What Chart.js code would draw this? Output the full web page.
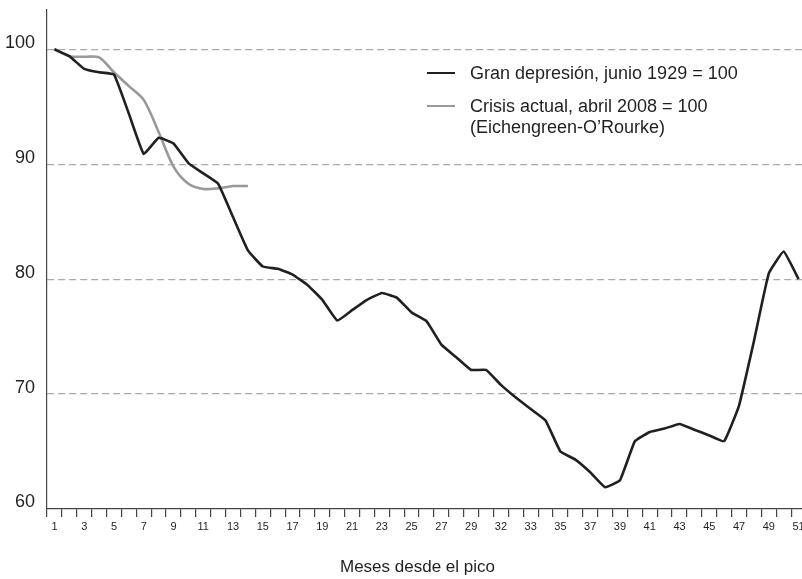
<!DOCTYPE html>
<html><head><meta charset="utf-8">
<script src="https://cdn.jsdelivr.net/npm/chart.js@4/dist/chart.umd.min.js"></script>
<style>
html,body{margin:0;padding:0;background:#fff;overflow:hidden;width:802px;height:579px;}
#wrap{position:relative;width:806px;height:579px;}
canvas{position:absolute;left:0;top:0;}
.leg{position:absolute;font-family:"Liberation Sans",Arial,sans-serif;font-size:18px;color:#231f20;line-height:21px;white-space:nowrap;}
.sw{position:absolute;height:0;width:28px;border-top:2.6px solid;}
#xt{position:absolute;left:0;width:835px;top:557px;text-align:center;font-family:"Liberation Sans",Arial,sans-serif;font-size:17px;line-height:20px;color:#231f20;}
</style></head><body>
<div id="wrap">
<canvas id="c" width="806" height="579"></canvas>
<div class="sw" style="left:427px;top:72px;border-color:#231f20"></div>
<div class="leg" style="left:470px;top:62.5px">Gran depresión, junio 1929 = 100</div>
<div class="sw" style="left:427px;top:104.7px;border-color:#999999"></div>
<div class="leg" style="left:470px;top:96px">Crisis actual, abril 2008 = 100<br>(Eichengreen-O’Rourke)</div>
<div id="xt">Meses desde el pico</div>
</div>
<script>
// Categories: months since the peak
const months = ['1','2','3','4','5','6','7','8','9','10','11','12','13','14','15','16','17','18','19','20',
  '21','22','23','24','25','26','27','28','29','30','31','32','33','34','35','36','37','38','39','40',
  '41','42','43','44','45','46','47','48','49','50','51'];
// Tick labels as printed in the reference (note "32" under month 31)
const tickLabels = ['1','','3','','5','','7','','9','','11','','13','','15','','17','','19','',
  '21','','23','','25','','27','','29','','32','','33','','35','','37','','39','',
  '41','','43','','45','','47','','49','','51'];
// Great Depression, June 1929 = 100
const granDepresion = [100.0,99.4,98.3,98.0,97.8,94.4,90.9,92.3,91.8,90.1,
  89.2,88.3,85.4,82.5,81.1,80.9,80.4,79.5,78.2,76.4,
  77.3,78.2,78.8,78.4,77.1,76.35,74.3,73.2,72.1,72.1,
  70.8,69.7,68.7,67.7,65.0,64.3,63.2,61.9,62.5,65.9,
  66.7,67.0,67.4,66.9,66.4,65.9,69.0,74.6,80.5,82.4,80.0];
// Current crisis, April 2008 = 100 (Eichengreen-O'Rourke)
const crisisActual = [100.0,99.4,99.35,99.3,98.0,96.8,95.6,92.8,89.8,88.3,87.85,87.9,88.1,88.1];
const yTicks = [60,70,80,90,100];

new Chart(document.getElementById('c'), {
  type: 'line',
  data: {
    labels: months,
    datasets: [
      {label: 'Gran depresión, junio 1929 = 100', data: granDepresion, borderColor: '#231f20',
       borderWidth: 2.6, pointRadius: 0, tension: 0.1, fill: false},
      {label: 'Crisis actual, abril 2008 = 100 (Eichengreen-O’Rourke)', data: crisisActual, borderColor: '#999999',
       borderWidth: 2.6, pointRadius: 0, tension: 0.3, fill: false}
    ]
  },
  options: {
    responsive: false, animation: false, devicePixelRatio: 1,
    layout: {padding: {top: 10, left: 0, right: 0, bottom: 0}},
    plugins: {legend: {display: false}, tooltip: {enabled: false}},
    scales: {
      x: {
        type: 'category', offset: true,
        grid: {display: true, drawOnChartArea: false, drawTicks: true, tickLength: 8, offset: true, color: '#444', lineWidth: 1.2},
        border: {display: true, color: '#444', width: 1.2},
        ticks: {autoSkip: false, maxRotation: 0, minRotation: 0, padding: 3, color: '#231f20',
          font: {family: 'Liberation Sans', size: 11}, callback: (v, i) => tickLabels[i]},
        afterFit: s => { s.height = 70; s.paddingLeft = 0; s.paddingRight = 0; }
      },
      y: {
        min: yTicks[0], max: 103.42,
        afterBuildTicks: s => { s.ticks = yTicks.map(v => ({value: v})); },
        ticks: {stepSize: 10, includeBounds: false, padding: 12, labelOffset: -6.5, color: '#231f20',
          font: {family: 'Liberation Sans', size: 18}},
        grid: {drawTicks: false, color: c => (c.tick && c.tick.value === 60) ? 'rgba(0,0,0,0)' : '#aaaaaa', lineWidth: 1.2},
        border: {display: true, color: '#444', width: 1.2, dash: [7, 4]},
        afterFit: s => { s.width = 47; s.paddingTop = 0; s.paddingBottom = 0; }
      }
    }
  }
});
</script>
</body></html>
